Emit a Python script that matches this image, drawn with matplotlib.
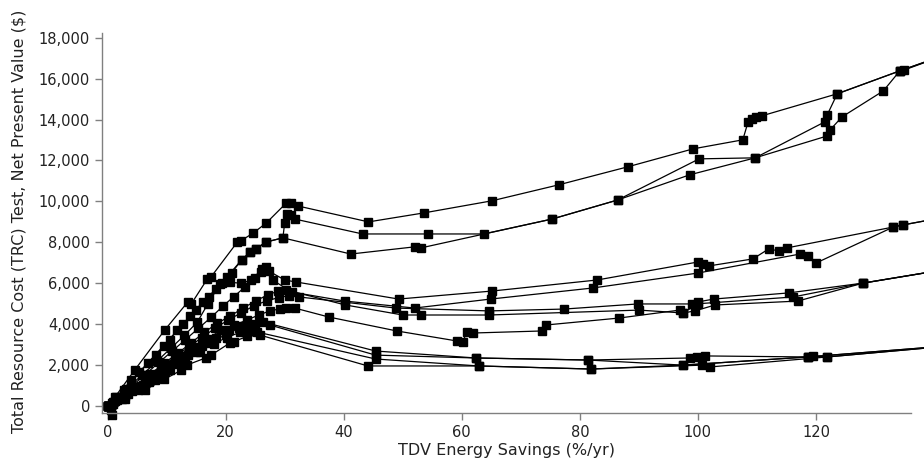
import numpy as np
import matplotlib.pyplot as plt
from matplotlib.ticker import FuncFormatter

# top group (three runs)
t1_x = [0, 1.2, 4.6, 9.7, 13.6, 14.2, 16.9, 17.5, 22.0, 22.6, 24.7, 26.9, 30.3, 31.0, 32.2, 44.2, 53.6, 65.1, 76.4, 88.1, 99.2, 107.6, 108.5, 109.2, 109.8, 110.8, 123.6, 134.2, 134.9, 145]
t1_y = [0, 420, 1760, 3720, 5090, 5000, 6210, 6300, 8020, 8080, 8460, 8950, 9930, 9920, 9780, 9000, 9440, 10030, 10810, 11690, 12570, 13010, 13890, 14030, 14130, 14180, 15260, 16380, 16420, 17480]

t2_x = [0, 0.6, 2.8, 5.4, 8.2, 10.5, 12.8, 15.0, 17.2, 19.4, 21.0, 22.7, 24.2, 25.1, 26.9, 29.7, 30.0, 30.4, 31.0, 31.7, 43.2, 54.2, 63.7, 75.3, 86.4, 100.2, 109.7, 121.5, 121.9, 123.6, 134.2, 145]
t2_y = [0, -200, 800, 1650, 2500, 3250, 4000, 4700, 5350, 6000, 6500, 7140, 7530, 7680, 8020, 8220, 8950, 9400, 9350, 9140, 8410, 8410, 8410, 9140, 10070, 12080, 12130, 13890, 14230, 15260, 16380, 17480]

t3_x = [0, 1.5, 4.0, 6.8, 9.5, 11.8, 14.0, 16.2, 18.3, 20.2, 22.7, 24.2, 25.1, 26.9, 29.7, 41.2, 52.0, 53.1, 75.3, 86.4, 98.6, 109.7, 121.9, 122.4, 124.4, 131.4, 134.2, 145]
t3_y = [0, 450, 1250, 2100, 2950, 3700, 4400, 5100, 5700, 6300, 7140, 7530, 7680, 8020, 8220, 7430, 7780, 7730, 9140, 10070, 11300, 12130, 13200, 13500, 14130, 15400, 16380, 17480]

# upper middle pair
u1_x = [0, 0.8, 3.2, 5.8, 8.4, 10.8, 13.0, 15.2, 17.0, 19.0, 20.8, 22.6, 24.3, 26.2, 26.8, 27.3, 30.0, 32.0, 49.3, 65.1, 82.9, 100.0, 100.8, 101.9, 109.3, 112.0, 113.7, 115.1, 133.1, 134.7, 145]
u1_y = [0, 150, 850, 1500, 2200, 2850, 3450, 4100, 5000, 5950, 6050, 6000, 6150, 6700, 6800, 6600, 6160, 6060, 5230, 5620, 6160, 7040, 6940, 6850, 7190, 7680, 7580, 7730, 8750, 8850, 9400]

u2_x = [0, 1.0, 3.6, 6.2, 8.8, 11.0, 13.2, 15.4, 17.6, 19.6, 21.4, 23.2, 25.0, 26.0, 26.6, 28.0, 31.2, 40.2, 52.0, 64.9, 82.2, 100.0, 117.3, 118.6, 120.0, 133.1, 134.7, 145]
u2_y = [0, 200, 850, 1500, 2150, 2700, 3250, 3800, 4350, 4900, 5350, 5800, 6250, 6550, 6650, 6150, 5570, 5130, 4790, 5230, 5770, 6500, 7430, 7340, 6990, 8750, 8850, 9400]

# lower middle group
l1_x = [0, 0.7, 3.0, 5.6, 8.0, 10.4, 12.6, 14.8, 17.0, 19.2, 21.4, 23.6, 25.6, 27.5, 29.2, 30.3, 31.7, 37.5, 49.0, 59.2, 60.2, 60.8, 61.9, 73.6, 74.2, 86.6, 96.9, 97.5, 99.5, 102.9, 116.9, 128.0, 145]
l1_y = [0, -450, 500, 1000, 1500, 2000, 2450, 2900, 3300, 3700, 3950, 4200, 4450, 4650, 4750, 4790, 4790, 4350, 3670, 3180, 3130, 3620, 3570, 3670, 3960, 4300, 4690, 4550, 4650, 4940, 5130, 6010, 6820]

l2_x = [0, 1.3, 3.8, 6.4, 9.0, 11.4, 13.8, 16.0, 18.2, 20.4, 22.6, 24.8, 27.0, 29.0, 30.8, 32.5, 48.8, 64.6, 77.3, 89.8, 99.0, 100.0, 102.7, 115.4, 128.0, 145]
l2_y = [0, 250, 800, 1350, 1900, 2400, 2900, 3350, 3800, 4200, 4550, 4900, 5150, 5300, 5400, 5330, 4790, 4650, 4740, 4990, 4990, 5090, 5230, 5530, 6010, 6820]

l3_x = [0, 2.0, 4.6, 7.2, 9.6, 12.0, 14.2, 16.4, 18.6, 20.8, 23.0, 25.2, 27.2, 28.8, 30.3, 40.3, 50.0, 53.1, 64.6, 90.0, 97.5, 100.0, 116.1, 128.0, 145]
l3_y = [0, 400, 950, 1550, 2100, 2600, 3100, 3600, 4050, 4400, 4800, 5150, 5450, 5600, 5670, 4940, 4450, 4450, 4450, 4690, 4550, 5000, 5330, 6010, 6820]

# bottom group
b1_x = [0, 1.6, 4.2, 7.0, 9.8, 12.4, 15.0, 17.6, 20.0, 22.2, 24.2, 26.3, 45.4, 62.4, 81.4, 98.6, 99.8, 101.2, 118.6, 119.5, 121.9, 145]
b1_y = [0, 300, 750, 1200, 1700, 2200, 2650, 3100, 3500, 3800, 3950, 4110, 2690, 2350, 2250, 2350, 2400, 2450, 2400, 2450, 2400, 3000]

b2_x = [0, 0.9, 3.4, 6.0, 8.6, 11.2, 13.6, 16.0, 18.4, 20.6, 22.8, 25.0, 27.5, 45.4, 62.4, 81.4, 97.5, 118.6, 145]
b2_y = [0, 100, 600, 1050, 1550, 2050, 2500, 2950, 3350, 3700, 3900, 4000, 3960, 2490, 2350, 2250, 2000, 2400, 3000]

b3_x = [0, 2.4, 5.2, 8.0, 10.6, 13.2, 15.6, 18.0, 20.2, 22.4, 24.0, 25.3, 45.4, 62.9, 81.9, 100.7, 102.0, 121.9, 145]
b3_y = [0, 350, 800, 1250, 1750, 2200, 2650, 3050, 3350, 3600, 3650, 3620, 2300, 1960, 1810, 2000, 1910, 2400, 3000]

b4_x = [0, 3.0, 6.4, 9.6, 12.5, 13.4, 16.6, 17.6, 20.7, 21.4, 23.6, 25.8, 44.1, 62.9, 81.9, 97.5, 118.6, 145]
b4_y = [0, 350, 800, 1300, 1760, 2000, 2350, 2500, 3080, 3150, 3400, 3470, 1960, 1960, 1810, 2000, 2400, 3000]

series = [(t1_x, t1_y), (t2_x, t2_y), (t3_x, t3_y), (u1_x, u1_y), (u2_x, u2_y),
          (l1_x, l1_y), (l2_x, l2_y), (l3_x, l3_y),
          (b1_x, b1_y), (b2_x, b2_y), (b3_x, b3_y), (b4_x, b4_y)]

x_ticks = [0, 20, 40, 60, 80, 100, 120]
y_ticks = [0, 2000, 4000, 6000, 8000, 10000, 12000, 14000, 16000, 18000]

fig, ax = plt.subplots(figsize=(9.24, 4.62), dpi=100)
fig.subplots_adjust(left=0.110, right=0.986, bottom=0.106, top=0.929)

for xs, ys in series:
    ax.plot(xs, ys, color='black', linewidth=0.9, marker='s', markersize=5.5,
            markerfacecolor='black', markeredgecolor='black', clip_on=False)

ax.set_xlim(-1.0, 136.1)
ax.set_ylim(-340, 18240)
ax.set_xticks(x_ticks)
ax.set_yticks(y_ticks)
ax.yaxis.set_major_formatter(FuncFormatter(lambda v, p: f"{int(v):,}"))

for s in ['top', 'right']:
    ax.spines[s].set_visible(False)
for s in ['left', 'bottom']:
    ax.spines[s].set_color('#808080')
    ax.spines[s].set_linewidth(1.0)

ax.tick_params(axis='both', colors='#808080', labelcolor='#222222', labelsize=10.5,
               length=4.8, width=1.0, pad=3.5)

ax.set_xlabel("TDV Energy Savings (%/yr)", fontsize=11.5, color='#222222')
ax.set_ylabel("Total Resource Cost (TRC) Test, Net Present Value ($)", fontsize=11.5, color='#222222')
ax.xaxis.set_label_coords(0.5, -0.079)
ax.yaxis.set_label_coords(-0.093, 0.505)

fig.savefig("out.png", dpi=100)
